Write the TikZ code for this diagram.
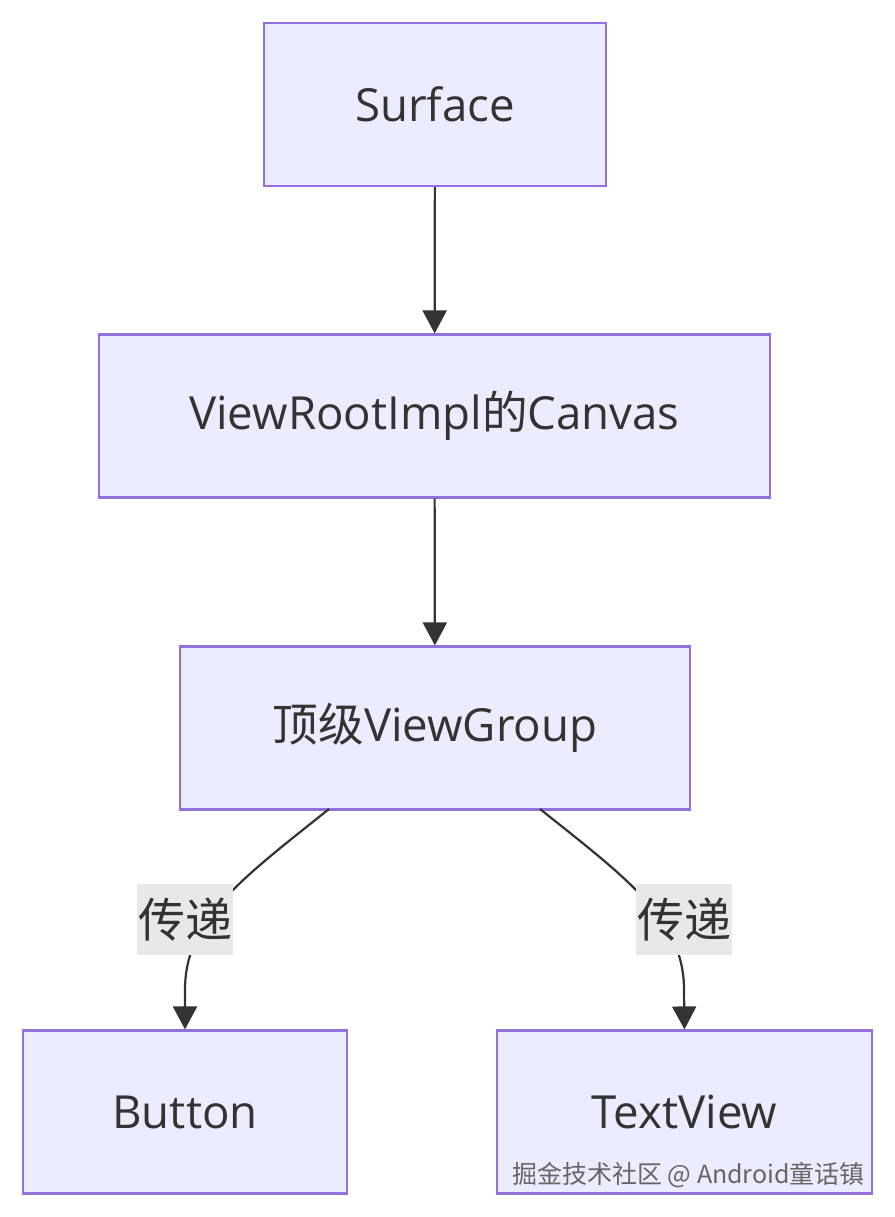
\documentclass[tikz,border=0pt]{standalone}
\usepackage{fontspec}
\setmainfont{Open Sans}
\newfontfamily\cjk{Noto Sans CJK SC}
\usetikzlibrary{arrows.meta}
\definecolor{nodefill}{HTML}{ECECFF}
\definecolor{nodeborder}{HTML}{9370DB}
\definecolor{txt}{HTML}{333333}
\definecolor{lblbg}{HTML}{E8E8E8}
\tikzset{
  box/.style={draw=nodeborder, fill=nodefill, line width=1.1pt, text=txt,
    minimum height=81.5pt, font=\fontsize{22.8}{26}\selectfont, inner sep=0pt},
  edge/.style={draw=txt, line width=1.1pt, -{Triangle[length=11.5pt,width=12pt]}},
  lbl/.style={fill=lblbg, text=txt, minimum width=48pt, minimum height=35.5pt,
    inner sep=0pt, font=\cjk\fontsize{23.5}{26}\selectfont},
}
\begin{document}
\begin{tikzpicture}[x=0.5pt,y=-0.5pt]
\useasboundingbox (0,0) rectangle (895,1217);
\fill[white] (0,0) rectangle (895,1217);
\node[box, minimum width=171pt] (s) at (435,104.5) {Surface};
\node[box, minimum width=335.5pt] (v) at (434.5,416) {ViewRootImpl{\cjk 的}Canvas};
\node[box, minimum width=255pt] (g) at (435,728) {{\cjk 顶级}ViewGroup};
\node[box, minimum width=162pt] (b) at (185,1112) {Button};
\node[box, minimum width=187.5pt] (t) at (684.5,1112) {TextView};
\coordinate (g1) at (329,809);
\coordinate (g2) at (540,809);
\draw[edge] (s) -- (v);
\draw[edge] (v) -- (g);
\draw[edge] (g1) .. controls (240,880) and (185,920) .. (185,990) -- (b.north);
\draw[edge] (g2) .. controls (629,880) and (684,920) .. (684,990) -- (t.north);
\node[lbl] (l1) at (185,919.5) {传递};
\node[lbl] (l2) at (684,919.5) {传递};
\node[anchor=east, text=black!60, font=\cjk\fontsize{12.5}{15}\selectfont] (wm) at (872,1175) {掘金技术社区 @ Android童话镇};
\end{tikzpicture}
\end{document}
